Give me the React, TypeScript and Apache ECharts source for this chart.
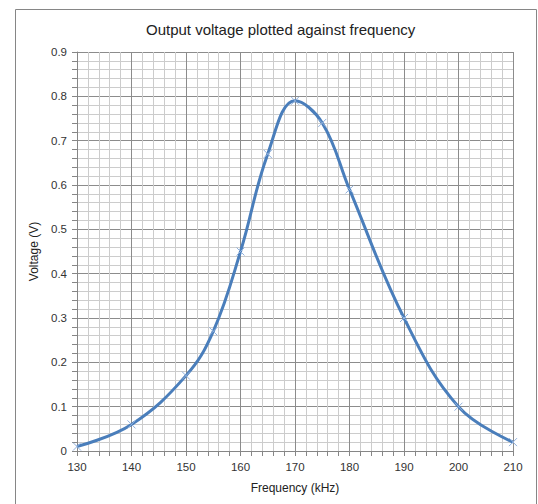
import React, { useEffect, useRef } from "react";
import * as echarts from "echarts";

const frequencies = [130, 140, 150, 155, 160, 165, 170, 175, 180, 190, 200, 210];
const voltages = [0.01, 0.06, 0.17, 0.27, 0.45, 0.67, 0.79, 0.74, 0.59, 0.30, 0.10, 0.02];

const titleText = "Output voltage plotted against frequency";
const xName = "Frequency (kHz)";
const yName = "Voltage (V)";

export default function App() {
  const ref = useRef<HTMLDivElement>(null);
  useEffect(() => {
    if (!ref.current) return;
    const chart = echarts.init(ref.current, undefined, { renderer: "svg" });
    const font = "'Liberation Sans', Arial, sans-serif";
    chart.setOption({
      animation: false,
      backgroundColor: "#ffffff",
      textStyle: { fontFamily: font },
      title: {
        text: titleText,
        left: 141,
        top: 17,
        textStyle: { fontFamily: font, fontSize: 15, fontWeight: "normal", color: "#222" },
      },
      graphic: [
        {
          type: "rect",
          shape: { x: 15.5, y: 9.5, width: 521, height: 510 },
          style: { fill: "none", stroke: "#868686", lineWidth: 1 },
          silent: true,
        },
      ],
      grid: { left: 77, right: 25, top: 52, bottom: 53, containLabel: false },
      xAxis: {
        type: "value",
        min: 130,
        max: 210,
        interval: 10,
        name: xName,
        nameLocation: "middle",
        nameGap: 31,
        nameTextStyle: { fontFamily: font, fontSize: 12, color: "#222" },
        axisLine: { show: true, lineStyle: { color: "#868686", width: 1 } },
        axisTick: { show: true, length: 5, lineStyle: { color: "#868686" } },
        minorTick: { show: true, splitNumber: 5, length: 5, lineStyle: { color: "#868686" } },
        axisLabel: { fontFamily: font, fontSize: 11.5, color: "#333", margin: 10 },
        splitLine: { show: true, lineStyle: { color: "#8c8c8c", width: 1 } },
        minorSplitLine: { show: true, lineStyle: { color: "#cccccc", width: 1 } },
      },
      yAxis: {
        type: "value",
        min: 0,
        max: 0.9,
        interval: 0.1,
        name: yName,
        nameLocation: "middle",
        nameGap: 33,
        nameRotate: 90,
        nameTextStyle: { fontFamily: font, fontSize: 12, color: "#222" },
        axisLine: { show: true, lineStyle: { color: "#868686", width: 1 } },
        axisTick: { show: true, length: 5, lineStyle: { color: "#868686" } },
        minorTick: { show: true, splitNumber: 5, length: 5, lineStyle: { color: "#868686" } },
        axisLabel: {
          fontFamily: font,
          fontSize: 11.5,
          color: "#333",
          margin: 10,
          formatter: (v: number) => (v === 0 ? "0" : v.toFixed(1)),
        },
        splitLine: { show: true, lineStyle: { color: "#8c8c8c", width: 1 } },
        minorSplitLine: { show: true, lineStyle: { color: "#cccccc", width: 1 } },
      },
      series: [
        {
          type: "line",
          data: frequencies.map((f, i) => [f, voltages[i]]),
          smooth: 0.4,
          symbol: "path://M0,0L10,10M10,0L0,10",
          symbolSize: 8,
          showAllSymbol: true,
          lineStyle: { color: "#4A7EBB", width: 3 },
          itemStyle: { color: "none", borderColor: "#8FB0DC", borderWidth: 1 },
          z: 3,
        },
      ],
    });
    return () => chart.dispose();
  }, []);
  return <div ref={ref} style={{ width: 538, height: 504, position: "absolute", left: 0, top: 0 }} />;
}
